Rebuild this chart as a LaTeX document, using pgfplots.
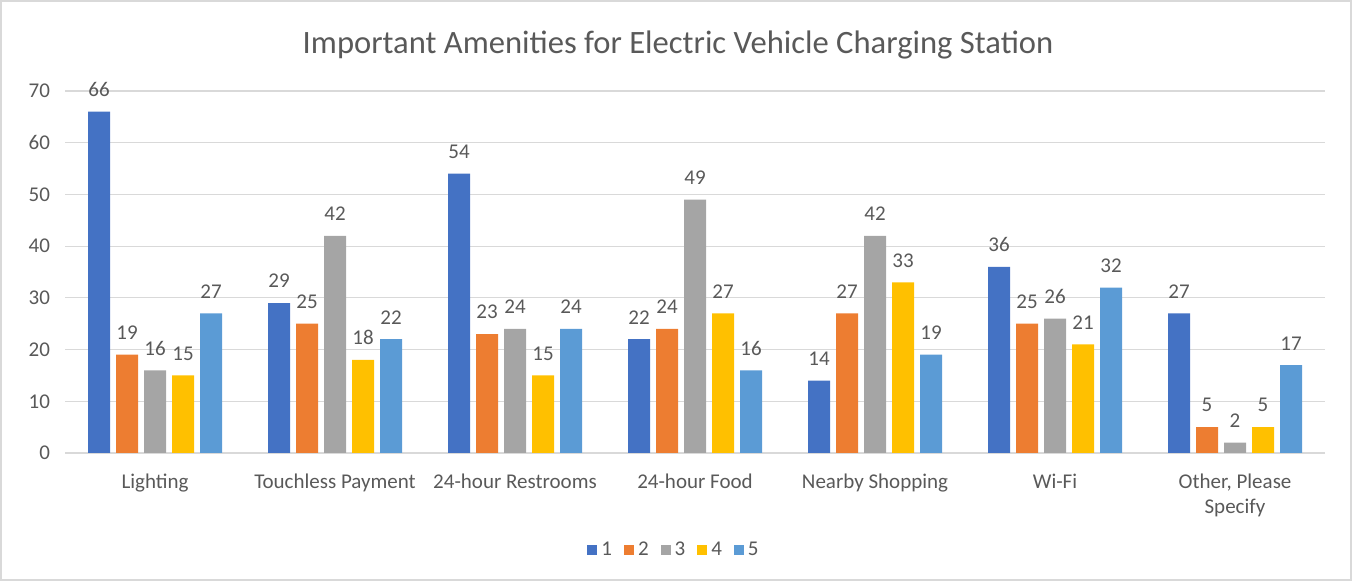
\documentclass[border=0pt]{standalone}
\usepackage{fontspec}
\setmainfont{Carlito}
\usepackage{pgfplots}
\pgfplotsset{compat=1.18}
\definecolor{cA}{HTML}{4472C4}
\definecolor{cB}{HTML}{ED7D31}
\definecolor{cC}{HTML}{A5A5A5}
\definecolor{cD}{HTML}{FFC000}
\definecolor{cE}{HTML}{5B9BD5}
\definecolor{txt}{HTML}{595959}
\definecolor{grd}{HTML}{D9D9D9}
\begin{document}
\begin{tikzpicture}
\useasboundingbox (0,0) rectangle (676pt,290.5pt);
\draw[grd,line width=0.6pt] (0.5pt,0.5pt) rectangle (675.5pt,290pt);
\begin{axis}[
  at={(32.5pt,64pt)}, anchor=south west,
  scale only axis, width=630pt, height=181pt,
  ybar=3pt, bar width=11pt,
  xmin=-0.5, xmax=6.5, ymin=0, ymax=70,
  ytick={0,10,...,70},
  xtick=data,
  xticklabels={Lighting,Touchless Payment,24-hour Restrooms,24-hour Food,Nearby Shopping,Wi-Fi,{Other, Please\\Specify}},
  xticklabel style={align=center, font=\fontsize{10.5}{12.5}\selectfont, text=txt, yshift=-7pt},
  yticklabel style={font=\fontsize{10.5}{12.5}\selectfont, text=txt, xshift=-4pt},
  /pgf/number format/assume math mode=true,
  major tick length=0pt,
  axis x line*=bottom,
  axis y line*=left,
  x axis line style={grd, line width=0.6pt, -},
  y axis line style={draw=none},
  ymajorgrids, grid style={grd, line width=0.6pt},
  nodes near coords,
  every node near coord/.append style={font=\fontsize{10.5}{12.5}\selectfont, text=txt, yshift=4pt},
  legend columns=5,
  legend style={at={(0.5,0)}, anchor=center, yshift=-48.5pt, xshift=-10pt, draw=none, font=\fontsize{10.5}{12.5}\selectfont, text=txt, /tikz/every even column/.append style={column sep=4pt}},
  legend image code/.code={\fill[#1] (0pt,-2.5pt) rectangle (5pt,2.5pt);},
  clip=false,
]
\addplot[fill=cA, draw=none] coordinates {(0,66) (1,29) (2,54) (3,22) (4,14) (5,36) (6,27)};
\addplot[fill=cB, draw=none] coordinates {(0,19) (1,25) (2,23) (3,24) (4,27) (5,25) (6,5)};
\addplot[fill=cC, draw=none] coordinates {(0,16) (1,42) (2,24) (3,49) (4,42) (5,26) (6,2)};
\addplot[fill=cD, draw=none] coordinates {(0,15) (1,18) (2,15) (3,27) (4,33) (5,21) (6,5)};
\addplot[fill=cE, draw=none] coordinates {(0,27) (1,22) (2,24) (3,16) (4,19) (5,32) (6,17)};
\legend{1,2,3,4,5}
\end{axis}
\node[font=\fontsize{16.3}{18}\selectfont, text=txt] at (339pt,268pt) {Important Amenities for Electric Vehicle Charging Station};
\end{tikzpicture}
\end{document}
